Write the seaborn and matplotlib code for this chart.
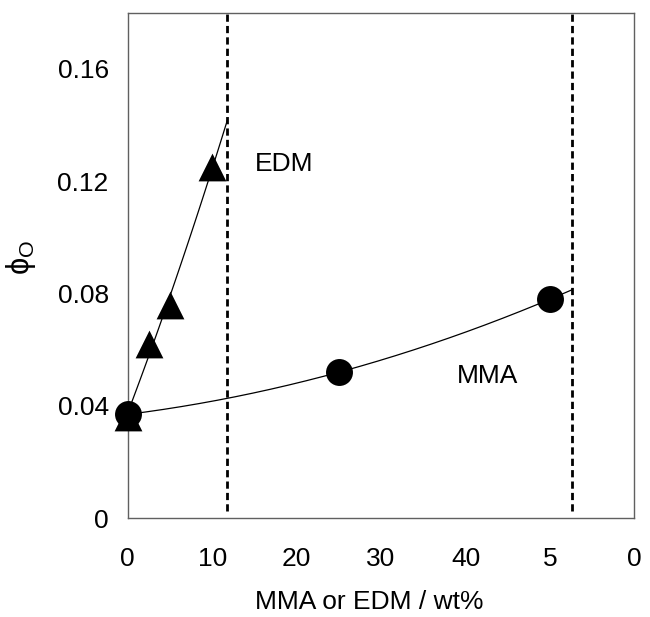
import numpy as np
import pandas as pd
import matplotlib
matplotlib.use('Agg')
import matplotlib.pyplot as plt
import seaborn as sns

# data
edm_x = [0, 2.5, 5, 10]
edm_y = [0.036, 0.062, 0.076, 0.125]
mma_x = [0, 25, 50]
mma_y = [0.037, 0.052, 0.078]
limits = [11.8, 52.6]  # dashed lines (EDM, MMA)
x_ticks = [0, 10, 20, 30, 40, 50, 60]
x_ticklabels = ['0', '10', '20', '30', '40', '5', '0']
y_ticks = [0, 0.04, 0.08, 0.12, 0.16]
y_ticklabels = ['0', '0.04', '0.08', '0.12', '0.16']

sns.set_style('white')
plt.rcParams['font.family'] = ['Liberation Sans', 'DejaVu Sans']
plt.rcParams['mathtext.fontset'] = 'custom'
plt.rcParams['mathtext.rm'] = 'Liberation Sans'
plt.rcParams['mathtext.it'] = 'Liberation Sans:italic'
for key in ['text.color', 'axes.labelcolor', 'xtick.labelcolor', 'ytick.labelcolor']:
    plt.rcParams[key] = 'black'

fig = plt.figure(figsize=(6.5, 6.17), dpi=100)
ax = fig.add_axes([0.1965, 0.160, 0.7795, 0.8194])

# quadratic fits, drawn up to the dashed limits
edm_curve = pd.DataFrame({'x': np.linspace(0, limits[0], 100)})
edm_curve['y'] = np.polyval(np.polyfit(edm_x, edm_y, 2), edm_curve['x'])
mma_curve = pd.DataFrame({'x': np.linspace(0, limits[1], 200)})
mma_curve['y'] = np.polyval(np.polyfit(mma_x, mma_y, 2), mma_curve['x'])

sns.lineplot(data=edm_curve, x='x', y='y', color='black', lw=0.9, ax=ax, zorder=2)
sns.lineplot(data=mma_curve, x='x', y='y', color='black', lw=0.9, ax=ax, zorder=2)

for lx in limits:
    ax.axvline(lx, ymin=0.014, ymax=1, color='black', lw=2, ls=(0, (2.6, 1.5)), zorder=1)

sns.scatterplot(x=edm_x, y=edm_y, marker='^', s=400, color='black', edgecolor='black',
                linewidth=0, ax=ax, zorder=3, clip_on=False)
sns.scatterplot(x=mma_x, y=mma_y, marker='o', s=376, color='black', edgecolor='black',
                linewidth=0, ax=ax, zorder=4, clip_on=False)

ax.text(18.5, 0.126, 'EDM', fontsize=19, ha='center', va='center')
ax.text(42.6, 0.0507, 'MMA', fontsize=19, ha='center', va='center')

ax.set_xlim(0, 60)
ax.set_ylim(0, 0.18)
ax.set_xticks(x_ticks)
ax.set_xticklabels(x_ticklabels)
ax.set_yticks(y_ticks)
ax.set_yticklabels(y_ticklabels)
ax.tick_params(axis='both', direction='in', length=13, width=0.8, color='#606060', labelsize=19)
ax.tick_params(axis='x', pad=21)
ax.tick_params(axis='y', pad=13.7)
for sp in ax.spines.values():
    sp.set_color('#606060')
    sp.set_linewidth(1)

ax.set_xlabel('MMA or EDM / wt%', fontsize=19)
ax.set_ylabel(r'$\mathrm{\phi}_\mathrm{O}$', fontsize=22)
ax.xaxis.set_label_coords(0.476, -0.141)
ax.yaxis.set_label_coords(-0.177, 0.516)

plt.savefig('out.png', dpi=100)
